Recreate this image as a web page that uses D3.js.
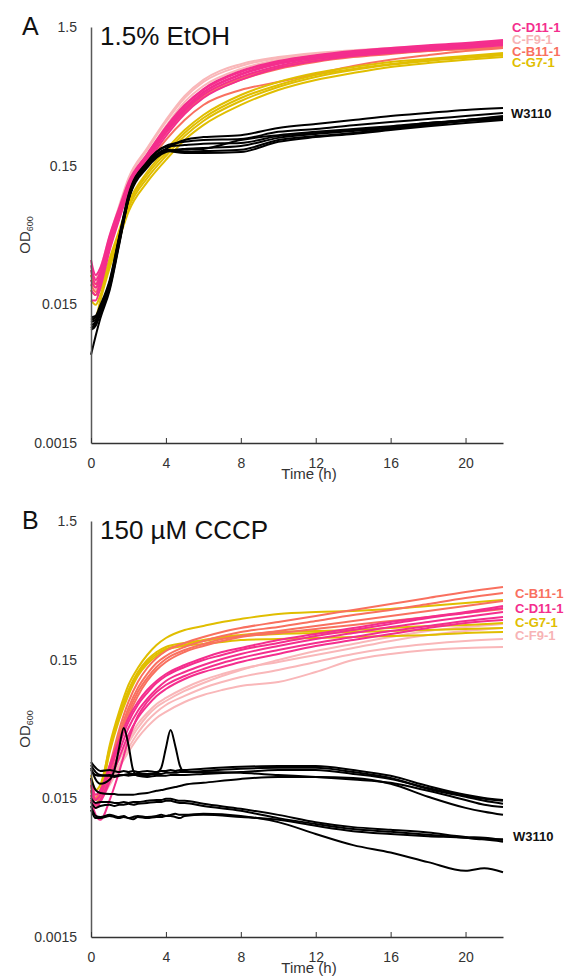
<!DOCTYPE html>
<html><head><meta charset="utf-8">
<script src="https://cdn.jsdelivr.net/npm/d3@7"></script>
<style>
body{margin:0;background:#fff}
svg{display:block}
text{font-family:Arial,"Liberation Sans",sans-serif}
</style>
</head><body>
<svg id="c" width="564" height="979"></svg>
<script>
// ---------------- DATA ----------------
const timeTicks = [0, 4, 8, 12, 16, 20];
const odTicks = [0.0015, 0.015, 0.15, 1.5];
const odTickLabels = ["0.0015", "0.015", "0.15", "1.5"];

// Panel A : 1.5% EtOH
const timesA = [0, 0.25, 0.5, 1, 1.5, 2, 3, 4, 5, 6, 8, 10, 12, 14, 16, 18, 20, 22];
const etoh_W3110 = [
  [0.0065, 0.0089, 0.0119, 0.019, 0.040, 0.085, 0.145, 0.188, 0.198, 0.201, 0.208, 0.238, 0.254, 0.267, 0.280, 0.300, 0.320, 0.336],
  [0.0106, 0.0112, 0.0133, 0.0209, 0.044, 0.087, 0.150, 0.195, 0.188, 0.191, 0.195, 0.230, 0.245, 0.258, 0.276, 0.294, 0.315, 0.331],
  [0.0116, 0.0121, 0.0141, 0.0218, 0.045, 0.090, 0.158, 0.205, 0.211, 0.216, 0.219, 0.245, 0.258, 0.271, 0.285, 0.305, 0.320, 0.342],
  [0.0098, 0.0105, 0.0128, 0.0198, 0.041, 0.085, 0.152, 0.191, 0.185, 0.185, 0.188, 0.223, 0.241, 0.254, 0.271, 0.289, 0.305, 0.320],
  [0.0121, 0.0124, 0.0148, 0.0225, 0.046, 0.092, 0.160, 0.208, 0.223, 0.230, 0.234, 0.263, 0.276, 0.294, 0.310, 0.325, 0.342, 0.360],
  [0.0112, 0.0116, 0.0137, 0.0211, 0.044, 0.089, 0.155, 0.198, 0.230, 0.241, 0.249, 0.280, 0.300, 0.320, 0.342, 0.360, 0.378, 0.390],
  [0.0101, 0.0109, 0.0133, 0.0205, 0.042, 0.086, 0.150, 0.191, 0.195, 0.198, 0.230, 0.249, 0.263, 0.276, 0.289, 0.305, 0.315, 0.325]
];
const etoh_D11 = [
  [0.0265, 0.0209, 0.0244, 0.044, 0.070, 0.109, 0.173, 0.271, 0.390, 0.510, 0.687, 0.825, 0.91, 0.975, 1.02, 1.077, 1.11, 1.17],
  [0.0313, 0.0244, 0.0275, 0.0474, 0.0743, 0.114, 0.182, 0.285, 0.411, 0.536, 0.723, 0.853, 0.94, 1.007, 1.06, 1.11, 1.15, 1.21],
  [0.019, 0.0175, 0.0218, 0.040, 0.066, 0.1035, 0.165, 0.258, 0.372, 0.485, 0.654, 0.785, 0.88, 0.94, 0.99, 1.04, 1.077, 1.13],
  [0.0225, 0.0198, 0.0232, 0.042, 0.0685, 0.107, 0.170, 0.267, 0.384, 0.502, 0.677, 0.81, 0.897, 0.958, 1.007, 1.06, 1.095, 1.15],
  [0.016, 0.016, 0.0198, 0.037, 0.061, 0.097, 0.157, 0.245, 0.354, 0.4615, 0.623, 0.759, 0.853, 0.927, 0.975, 1.02, 1.06, 1.11],
  [0.0287, 0.0225, 0.0257, 0.045, 0.072, 0.111, 0.179, 0.280, 0.404, 0.527, 0.711, 0.84, 0.927, 0.99, 1.04, 1.095, 1.13, 1.19]
];
const etoh_F9 = [
  [0.0244, 0.0218, 0.0257, 0.045, 0.0743, 0.118, 0.195, 0.310, 0.4615, 0.602, 0.785, 0.897, 0.958, 1.007, 1.04, 1.077, 1.095, 1.11],
  [0.0209, 0.019, 0.0232, 0.042, 0.0696, 0.111, 0.182, 0.289, 0.432, 0.563, 0.747, 0.87, 0.94, 0.99, 1.02, 1.06, 1.077, 1.095],
  [0.0265, 0.0232, 0.0275, 0.0467, 0.0768, 0.122, 0.201, 0.32, 0.477, 0.623, 0.81, 0.91, 0.975, 1.02, 1.06, 1.095, 1.11, 1.13]
];
const etoh_B11 = [
  [0.0225, 0.0198, 0.0232, 0.0409, 0.066, 0.1035, 0.165, 0.258, 0.366, 0.469, 0.623, 0.747, 0.84, 0.91, 0.958, 1.007, 1.04, 1.077],
  [0.0209, 0.0184, 0.0218, 0.0383, 0.063, 0.097, 0.152, 0.23, 0.32, 0.411, 0.527, 0.602, 0.687, 0.785, 0.87, 0.94, 1.007, 1.06],
  [0.0244, 0.0209, 0.0244, 0.042, 0.0685, 0.107, 0.170, 0.267, 0.378, 0.485, 0.643, 0.772, 0.87, 0.927, 0.975, 1.007, 1.04, 1.06]
];
const etoh_G7 = [
  [0.0244, 0.0209, 0.0209, 0.0324, 0.051, 0.0807, 0.135, 0.195, 0.271, 0.348, 0.485, 0.602, 0.699, 0.772, 0.84, 0.88, 0.927, 0.975],
  [0.016, 0.0149, 0.0175, 0.0287, 0.0467, 0.0743, 0.122, 0.176, 0.245, 0.315, 0.439, 0.554, 0.654, 0.735, 0.80, 0.853, 0.897, 0.94],
  [0.0116, 0.0121, 0.016, 0.0275, 0.044, 0.0696, 0.114, 0.165, 0.23, 0.294, 0.411, 0.527, 0.623, 0.699, 0.772, 0.825, 0.87, 0.91],
  [0.019, 0.0175, 0.019, 0.0303, 0.049, 0.0781, 0.129, 0.185, 0.258, 0.331, 0.4615, 0.573, 0.677, 0.747, 0.81, 0.87, 0.91, 0.958]
];

// Panel B : 150 µM CCCP
const timesB = [0, 0.25, 0.5, 1, 1.5, 2, 2.5, 3, 3.5, 4, 5, 6, 7, 8, 10, 12, 14, 16, 18, 20, 22];
const cccp_G7 = [
  [0.0205, 0.0146, 0.0172, 0.0364, 0.063, 0.0985, 0.1306, 0.1621, 0.1914, 0.215, 0.2456, 0.2624, 0.2805, 0.2948, 0.3203, 0.3312, 0.3367, 0.348, 0.366, 0.3845, 0.4045],
  [0.0221, 0.0172, 0.0188, 0.0346, 0.0589, 0.0906, 0.1222, 0.1492, 0.1704, 0.1852, 0.1979, 0.208, 0.2186, 0.2259, 0.2375, 0.2415, 0.2456, 0.2538, 0.2624, 0.2669, 0.2759],
  [0.0172, 0.0135, 0.0159, 0.0324, 0.0551, 0.0834, 0.1144, 0.1396, 0.1595, 0.1762, 0.1883, 0.1946, 0.2012, 0.208, 0.2115, 0.215, 0.2186, 0.2223, 0.2259, 0.2336, 0.2375],
  [0.0188, 0.0151, 0.0167, 0.0335, 0.057, 0.0877, 0.1182, 0.1444, 0.1649, 0.1791, 0.1914, 0.2046, 0.215, 0.2223, 0.2297, 0.2336, 0.2375, 0.2415, 0.2456, 0.2497, 0.2538]
];
const cccp_B11 = [
  [0.0172, 0.0146, 0.0159, 0.026, 0.0467, 0.0743, 0.1035, 0.1306, 0.1543, 0.1733, 0.1979, 0.2186, 0.2375, 0.2538, 0.2805, 0.310, 0.3424, 0.3783, 0.418, 0.4615, 0.5016],
  [0.0159, 0.0135, 0.0151, 0.024, 0.043, 0.0673, 0.0937, 0.1182, 0.142, 0.1595, 0.1852, 0.2046, 0.2223, 0.2375, 0.2581, 0.2852, 0.3151, 0.3424, 0.3783, 0.418, 0.454],
  [0.0188, 0.0151, 0.0167, 0.0249, 0.0409, 0.063, 0.0877, 0.1106, 0.1328, 0.1517, 0.1762, 0.1946, 0.2115, 0.2223, 0.2415, 0.2624, 0.2852, 0.310, 0.3367, 0.366, 0.3976],
  [0.0146, 0.0128, 0.0146, 0.0221, 0.0383, 0.0589, 0.0821, 0.1053, 0.1264, 0.1444, 0.1704, 0.1883, 0.2046, 0.2186, 0.2336, 0.2497, 0.2669, 0.2852, 0.305, 0.3257, 0.348]
];
const cccp_D11 = [
  [0.0188, 0.0146, 0.0159, 0.024, 0.0364, 0.0533, 0.0707, 0.0862, 0.1018, 0.1144, 0.1328, 0.1492, 0.1621, 0.1762, 0.1979, 0.2223, 0.2456, 0.2713, 0.2999, 0.3257, 0.3538],
  [0.0172, 0.0135, 0.0146, 0.021, 0.0324, 0.0482, 0.064, 0.0781, 0.0921, 0.1053, 0.1222, 0.1373, 0.1517, 0.1649, 0.1883, 0.2115, 0.2336, 0.2581, 0.2805, 0.305, 0.3312],
  [0.0146, 0.0114, 0.0105, 0.0146, 0.0232, 0.0395, 0.0589, 0.0743, 0.0877, 0.0985, 0.1144, 0.1285, 0.142, 0.1543, 0.1762, 0.1979, 0.2186, 0.2415, 0.2624, 0.2852, 0.305],
  [0.0205, 0.0159, 0.0172, 0.0261, 0.0395, 0.057, 0.0743, 0.0906, 0.1053, 0.1182, 0.1373, 0.1543, 0.1704, 0.1821, 0.208, 0.2297, 0.2538, 0.2805, 0.305, 0.3312, 0.366],
  [0.0159, 0.0128, 0.0141, 0.0197, 0.0293, 0.043, 0.057, 0.0696, 0.0821, 0.0921, 0.1088, 0.1222, 0.1328, 0.1444, 0.1649, 0.1883, 0.208, 0.2297, 0.2538, 0.2759, 0.29]
];
const cccp_F9 = [
  [0.0159, 0.0135, 0.0146, 0.0188, 0.0249, 0.0324, 0.0409, 0.0491, 0.057, 0.063, 0.0743, 0.0834, 0.0906, 0.0969, 0.1035, 0.1222, 0.1492, 0.1649, 0.1762, 0.1821, 0.1852],
  [0.0172, 0.0146, 0.0154, 0.0197, 0.0261, 0.0346, 0.0444, 0.0542, 0.063, 0.0707, 0.0821, 0.0937, 0.1035, 0.1125, 0.1264, 0.1444, 0.1649, 0.1821, 0.1946, 0.2046, 0.2115],
  [0.0188, 0.0159, 0.0167, 0.0218, 0.0293, 0.0395, 0.0516, 0.0619, 0.0719, 0.0794, 0.0937, 0.107, 0.1182, 0.1285, 0.1444, 0.1621, 0.1821, 0.2046, 0.2259, 0.2415, 0.2538],
  [0.0178, 0.0151, 0.0159, 0.021, 0.0284, 0.0376, 0.0482, 0.0589, 0.0684, 0.0755, 0.0892, 0.1018, 0.1144, 0.1264, 0.1492, 0.1733, 0.1946, 0.2186, 0.2415, 0.2581, 0.2713]
];
const timesB_W3110 = [0, 0.25, 0.5, 1, 1.25, 1.5, 1.75, 2, 2.25, 2.5, 3, 3.5, 3.75, 4, 4.25, 4.5, 4.75, 5, 6, 8, 10, 12, 14, 16, 18, 20, 21, 22];
const cccp_W3110 = [
  [0.0274, 0.0249, 0.0236, 0.024, 0.0236, 0.0232, 0.0236, 0.0232, 0.0236, 0.0232, 0.0236, 0.0232, 0.0236, 0.0236, 0.024, 0.0236, 0.024, 0.024, 0.0245, 0.0253, 0.0257, 0.0257, 0.024, 0.0218, 0.0184, 0.0159, 0.0151, 0.0146],
  [0.0261, 0.0232, 0.0221, 0.0218, 0.0214, 0.0218, 0.0221, 0.0218, 0.0221, 0.0221, 0.0221, 0.0225, 0.0225, 0.0229, 0.0229, 0.0229, 0.0232, 0.0232, 0.0236, 0.0245, 0.0249, 0.0249, 0.0232, 0.021, 0.0175, 0.0154, 0.0144, 0.0137],
  [0.024, 0.0221, 0.0218, 0.0221, 0.0218, 0.0221, 0.0221, 0.0225, 0.0225, 0.0225, 0.0225, 0.0229, 0.0249, 0.0346, 0.0467, 0.0358, 0.0257, 0.0232, 0.0232, 0.0229, 0.0221, 0.0214, 0.0205, 0.0194, 0.017, 0.0146, 0.0135, 0.013],
  [0.021, 0.0172, 0.0164, 0.0161, 0.0161, 0.0159, 0.0159, 0.0159, 0.0159, 0.0161, 0.0164, 0.017, 0.0172, 0.0175, 0.0178, 0.0181, 0.0184, 0.0188, 0.0194, 0.0207, 0.0214, 0.0214, 0.021, 0.0191, 0.0154, 0.0128, 0.012, 0.0114],
  [0.0249, 0.0205, 0.0191, 0.0205, 0.024, 0.0346, 0.0482, 0.0364, 0.024, 0.0218, 0.0214, 0.0218, 0.0218, 0.0218, 0.0221, 0.0221, 0.0221, 0.0221, 0.0225, 0.0232, 0.024, 0.024, 0.0225, 0.0207, 0.0178, 0.0156, 0.0149, 0.0144],
  [0.0151, 0.0139, 0.0141, 0.0141, 0.0139, 0.0139, 0.0141, 0.0139, 0.0141, 0.0141, 0.0144, 0.0146, 0.0146, 0.0149, 0.0149, 0.0146, 0.0144, 0.0144, 0.0137, 0.0126, 0.0114, 0.0101, 0.0093, 0.0089, 0.0085, 0.0079, 0.0078, 0.0075],
  [0.0141, 0.0128, 0.0132, 0.0135, 0.0132, 0.0135, 0.0135, 0.0137, 0.0135, 0.0137, 0.0139, 0.0141, 0.0141, 0.0144, 0.0144, 0.0141, 0.0139, 0.0139, 0.0132, 0.0122, 0.0108, 0.0098, 0.009, 0.0086, 0.0082, 0.0078, 0.0076, 0.0073],
  [0.0132, 0.0112, 0.011, 0.0114, 0.0112, 0.011, 0.0112, 0.0108, 0.011, 0.0112, 0.011, 0.0112, 0.0114, 0.0112, 0.0114, 0.0116, 0.0114, 0.0114, 0.0116, 0.0112, 0.0101, 0.0083, 0.0069, 0.0061, 0.0052, 0.0045, 0.0047, 0.0044],
  [0.0124, 0.0108, 0.0108, 0.0112, 0.011, 0.0108, 0.011, 0.0108, 0.0106, 0.011, 0.0108, 0.011, 0.011, 0.0112, 0.0112, 0.011, 0.0108, 0.0112, 0.0114, 0.011, 0.0105, 0.0095, 0.0087, 0.0083, 0.008, 0.0078, 0.0076, 0.0076]
];

const strainNames = ["C-D11-1", "C-F9-1", "C-B11-1", "C-G7-1", "W3110"];
const legendOrderA = ["C-D11-1", "C-F9-1", "C-B11-1", "C-G7-1"];
const legendOrderB = ["C-B11-1", "C-D11-1", "C-G7-1", "C-F9-1"];

// ---------------- STYLE / LAYOUT ----------------
const color = {
  "C-D11-1": "#F42E8D",
  "C-F9-1": "#F9B7B9",
  "C-B11-1": "#F9705F",
  "C-G7-1": "#E0BE00",
  "W3110": "#000000"
};
const labelColor = Object.assign({}, color, {"C-F9-1": "#F7B3B5"});

const svg = d3.select("#c");
const x = d3.scaleLinear().domain([0, 22]).range([91, 503]);

const panels = [
  {
    letter: "A", title: "1.5% EtOH", top: 27, bottom: 443,
    groups: [
      {name: "C-F9-1", times: timesA, reps: etoh_F9},
      {name: "C-B11-1", times: timesA, reps: etoh_B11},
      {name: "C-G7-1", times: timesA, reps: etoh_G7},
      {name: "C-D11-1", times: timesA, reps: etoh_D11},
      {name: "W3110", times: timesA, reps: etoh_W3110}
    ],
    legend: legendOrderA, legendX: 512, legendY: [32, 44, 56, 67],
    wX: 511, wY: 118
  },
  {
    letter: "B", title: "150 µM CCCP", top: 521, bottom: 937,
    groups: [
      {name: "C-F9-1", times: timesB, reps: cccp_F9},
      {name: "C-G7-1", times: timesB, reps: cccp_G7},
      {name: "C-B11-1", times: timesB, reps: cccp_B11},
      {name: "C-D11-1", times: timesB, reps: cccp_D11},
      {name: "W3110", times: timesB_W3110, reps: cccp_W3110}
    ],
    legend: legendOrderB, legendX: 515, legendY: [598, 613, 627, 640],
    wX: 513, wY: 841
  }
];

panels.forEach(p => {
  const y = d3.scaleLog().domain([0.0015, 1.5]).range([p.bottom, p.top]);
  const g = svg.append("g");

  // lines
  p.groups.forEach(grp => {
    const line = d3.line()
      .x((d, i) => x(grp.times[i]))
      .y(d => y(d))
      .curve(d3.curveMonotoneX);
    g.append("g").selectAll("path").data(grp.reps).join("path")
      .attr("d", line)
      .attr("fill", "none")
      .attr("stroke", color[grp.name])
      .attr("stroke-width", 2)
      .attr("stroke-linejoin", "round");
  });

  // y axis
  const yAxis = d3.axisLeft(y).tickValues(odTicks)
    .tickFormat((d, i) => odTickLabels[i])
    .tickSizeInner(0).tickSizeOuter(0).tickPadding(14);
  const ya = g.append("g").attr("transform", "translate(91,0)").call(yAxis);
  ya.select(".domain").attr("stroke", "#595959").attr("stroke-width", 1.5);
  ya.selectAll("text").attr("font-size", 14).attr("fill", "#333")
    .attr("font-family", "Arial, 'Liberation Sans', sans-serif");

  // x axis
  const xAxis = d3.axisBottom(x).tickValues(timeTicks)
    .tickSizeInner(-5).tickSizeOuter(0).tickPadding(15);
  const xa = g.append("g").attr("transform", `translate(0,${p.bottom})`).call(xAxis);
  xa.select(".domain").attr("stroke", "#333").attr("stroke-width", 1.5);
  xa.selectAll(".tick line").attr("stroke", "#333").attr("stroke-width", 1);
  xa.selectAll("text").attr("font-size", 14).attr("fill", "#333")
    .attr("font-family", "Arial, 'Liberation Sans', sans-serif");

  // axis titles
  g.append("text").attr("x", 309).attr("y", p.bottom + 36)
    .attr("text-anchor", "middle").attr("font-size", 15).attr("fill", "#333")
    .text("Time (h)");
  const yl = g.append("text")
    .attr("transform", `translate(30,${p.top + 208}) rotate(-90)`)
    .attr("text-anchor", "middle").attr("font-size", 15).attr("fill", "#333");
  yl.append("tspan").text("OD");
  yl.append("tspan").attr("font-size", 9).attr("dy", 3).text("600");

  // panel letter and title
  g.append("text").attr("x", 22).attr("y", p.top + 8)
    .attr("font-size", 25).attr("fill", "#111").text(p.letter);
  g.append("text").attr("x", 100).attr("y", p.top + 18)
    .attr("font-size", 26).attr("fill", "#111").text(p.title);

  // direct labels
  p.legend.forEach((name, i) => {
    g.append("text").attr("x", p.legendX).attr("y", p.legendY[i])
      .attr("font-size", 13).attr("font-weight", "bold")
      .attr("fill", labelColor[name]).text(name);
  });
  g.append("text").attr("x", p.wX).attr("y", p.wY)
    .attr("font-size", 13).attr("font-weight", "bold")
    .attr("fill", "#111").text(strainNames[4]);
});
</script>
</body></html>
